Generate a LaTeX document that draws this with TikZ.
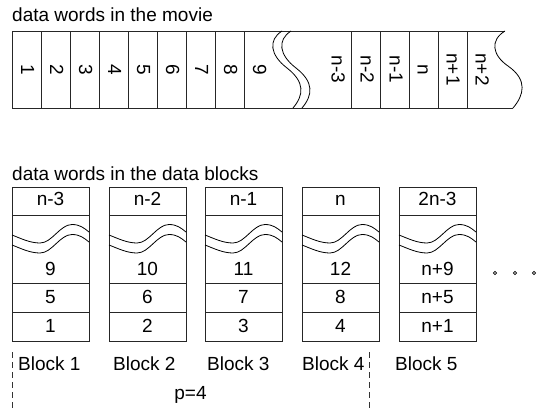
\documentclass[tikz,border=0pt]{standalone}
\usepackage{fontspec}
\setmainfont{Liberation Sans}
\begin{document}
\begin{tikzpicture}[x=1pt,y=-1pt,
  border/.style={line width=0.9pt, draw=black!85},
  wave/.style={line width=0.8pt, draw=black},
  lbl/.style={font=\fontsize{19}{22}\selectfont, inner sep=0pt},
  vlbl/.style={lbl, rotate=-90, anchor=base},
  blbl/.style={lbl, anchor=base},
  guide/.style={line width=0.6pt, draw=black!80, dash pattern=on 6pt off 4pt}]
\useasboundingbox (0,0) rectangle (537,408);

% titles
\node[lbl, anchor=base west] (title1) at (12,21.5) {data words in the movie};
\node[lbl, anchor=base west] (title2) at (12,180.5) {data words in the data blocks};

% movie strip
\draw[border] (12,31) -- (505,31);
\draw[border] (12,108) -- (513,108);
\foreach \x in {12,41,70,99,128,157,186,215,244,351,380,409,438,467}
  \draw[border] (\x,31) -- (\x,108);
% break in the strip
\draw[wave] (282,31) .. controls (268,40) and (270,55) .. (287,68) .. controls (305,82) and (304,95) .. (293,108);
\draw[wave] (291,31) .. controls (277,40) and (279,55) .. (296,68) .. controls (314,82) and (313,95) .. (302,108);
% ragged right end
\draw[wave] (505,31) .. controls (490,40) and (492,55) .. (508,66) .. controls (528,80) and (524,95) .. (513,108);

% rotated labels in the strip
\foreach \n/\b/\t in {m1/21/1,m2/50/2,m3/79/3,m4/108/4,m5/137/5,m6/166/6,m7/195/7,m8/224/8,m9/253/9,
  mA/331.5/n-3,mB/360.5/n-2,mC/389.5/n-1,mD/417.5/n,mE/446.5/n+1,mF/475.5/n+2}
  \node[vlbl] (\n) at (\b,69.5) {\t};

% data blocks
\foreach \k/\L/\ta/\tb/\tc/\td/\lx in {1/12/n-3/9/5/1/18, 2/109/n-2/10/6/2/113, 3/205/n-1/11/7/3/207,
  4/302/n/12/8/4/302, 5/399/2n-3/n+9/n+5/n+1/395} {
  \draw[border] (\L,187) rectangle ++(77,154);
  \draw[border] (\L,215) -- ++(77,0);
  \draw[border] (\L,283) -- ++(77,0);
  \draw[border] (\L,312) -- ++(77,0);
  \draw[wave] (\L,235) .. controls ++(9,3.5) and ++(-10,0) .. ++(28,8)
     .. controls ++(12,0) and ++(-12,0) .. ++(32,-18.5)
     .. controls ++(8,0) and ++(-5,-4) .. ++(17,7.5);
  \draw[wave] (\L,245) .. controls ++(9,3.5) and ++(-10,0) .. ++(28,8)
     .. controls ++(12,0) and ++(-12,0) .. ++(32,-18.5)
     .. controls ++(8,0) and ++(-5,-4) .. ++(17,7.5);
  \node[blbl] (top\k) at (\L+38.5,205.5) {\ta};
  \node[blbl] (mid\k) at (\L+38.5,275) {\tb};
  \node[blbl] (low\k) at (\L+38.5,303.5) {\tc};
  \node[blbl] (bot\k) at (\L+38.5,332.5) {\td};
  \node[lbl, anchor=base west] (name\k) at (\lx,370) {Block \k};
}

% continuation dots
\foreach \x [count=\i] in {495,515,534}
  \draw[line width=0.8pt] (\x,273) circle (1.6) coordinate (dot\i);

% p=4 bracket
\coordinate (gl) at (12,352);
\coordinate (gr) at (369,352);
\draw[guide] (gl) -- (12,408);
\draw[guide] (gr) -- (369,408);
\node[blbl] (p) at (190.5,399.5) {p=4};
\end{tikzpicture}
\end{document}
